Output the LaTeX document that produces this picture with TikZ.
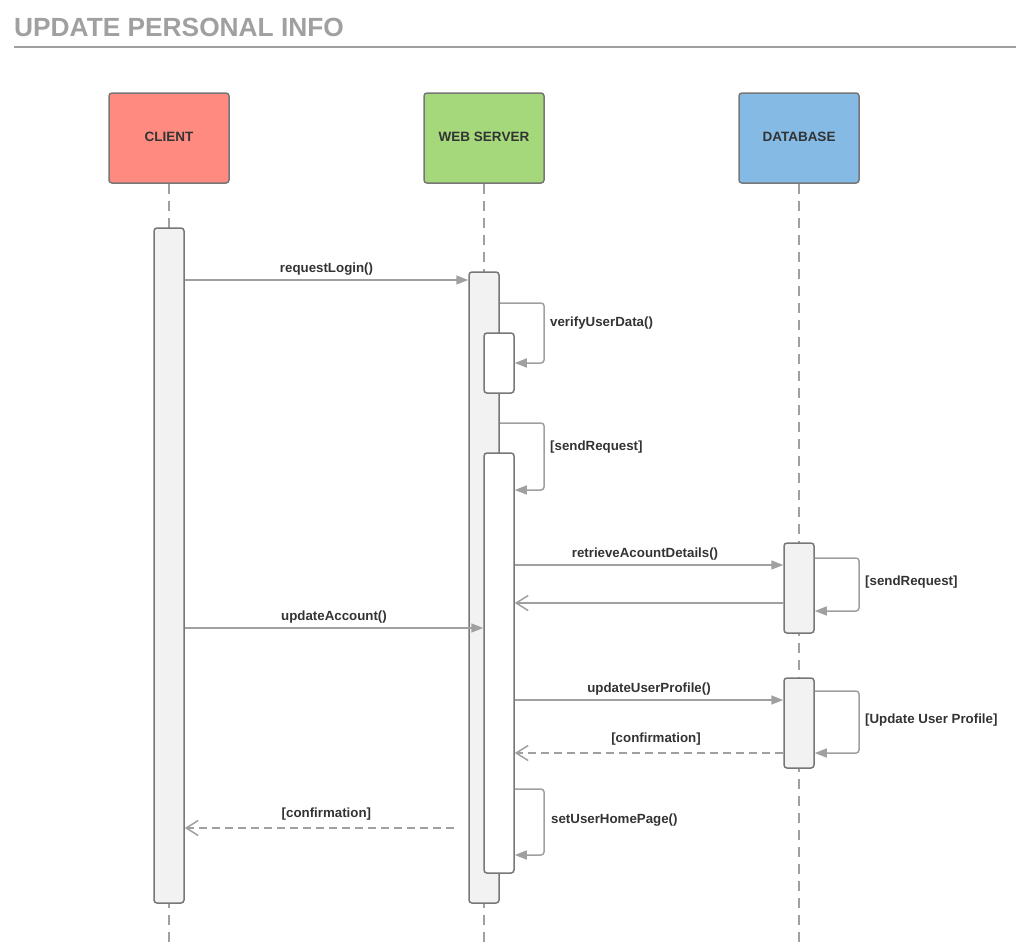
\documentclass[tikz,border=0pt]{standalone}
\usepackage{fontspec}
\setmainfont{Liberation Sans}
\usetikzlibrary{arrows.meta}
\definecolor{clientred}{HTML}{FF8A80}
\definecolor{servergreen}{HTML}{A5D87B}
\definecolor{dbblue}{HTML}{85BAE4}
\definecolor{boxline}{HTML}{777777}
\definecolor{msgline}{HTML}{A0A0A0}
\definecolor{labeltext}{HTML}{333333}

\begin{document}
\begin{tikzpicture}[x=1pt, y=-1pt,
  actor/.style={draw=boxline, line width=1.5pt, rounded corners=3pt, minimum width=120pt, minimum height=90pt, font=\bfseries\fontsize{13.5}{15}\selectfont, text=labeltext},
  lifeline/.style={draw=msgline, line width=1.5pt, dash pattern=on 10pt off 7pt},
  activation/.style={draw=boxline, line width=1.5pt, rounded corners=3pt, minimum width=30pt, fill=#1, inner sep=0pt},
  call/.style={draw=msgline, line width=1.5pt, -{Triangle[length=12pt,width=9pt]}},
  reply/.style={draw=msgline, line width=1.5pt, -{Straight Barb[length=12pt,width=15pt]}},
  loop/.style={call, rounded corners=3pt},
  msg/.style={font=\bfseries\fontsize{13.3}{15}\selectfont, text=labeltext, inner sep=4pt}]
\useasboundingbox (0,0) rectangle (1016,948);

% title
\node[anchor=base west, inner sep=0pt, text=msgline, font=\bfseries\fontsize{26.3}{30}\selectfont] (title) at (14,36) {UPDATE PERSONAL INFO};
\draw[msgline, line width=2pt] (14,47) -- (1016,47);

% participants
\node[actor, fill=clientred] (client) at (169,138) {\raisebox{3pt}{CLIENT}};
\node[actor, fill=servergreen] (server) at (484,138) {\raisebox{3pt}{WEB SERVER}};
\node[actor, fill=dbblue] (db) at (799,138) {\raisebox{3pt}{DATABASE}};
\draw[lifeline] (client.south) -- (169,948);
\draw[lifeline] (server.south) -- (484,948);
\draw[lifeline] (db.south) -- (799,948);

% activation bars
\node[activation=black!5, minimum height=675pt] (cAct) at (169,565.5) {};
\node[activation=black!5, minimum height=631pt] (sAct) at (484,587.5) {};
\node[activation=white, minimum height=60pt] (sVerify) at (499,363) {};
\node[activation=white, minimum height=420pt] (sSend) at (499,663) {};
\node[activation=black!5, minimum height=90pt] (dAct1) at (799,588) {};
\node[activation=black!5, minimum height=90pt] (dAct2) at (799,723) {};

% messages
\draw[call] (cAct.east |- 0,280) -- (sAct.west |- 0,280) node[msg, midway, above] {requestLogin()};
\draw[loop] (sAct.east |- 0,303) -| (544,363) -- (sVerify.east |- 0,363);
\node[msg, anchor=west] (verifyLbl) at (546,323) {verifyUserData()};
\draw[loop] (sAct.east |- 0,423) -| (544,490) -- (sSend.east |- 0,490);
\node[msg, anchor=west] (sendLbl) at (546,447) {[sendRequest]};
\draw[call] (sSend.east |- 0,565) -- (dAct1.west |- 0,565) node[msg, midway, above, xshift=-4pt] {retrieveAcountDetails()};
\draw[reply] (dAct1.west |- 0,603) -- (sSend.east |- 0,603);
\draw[loop] (dAct1.east |- 0,558) -| (859,611) -- (dAct1.east |- 0,611);
\node[msg, anchor=west] (dSendLbl) at (861,582) {[sendRequest]};
\draw[call] (cAct.east |- 0,628) -- (sSend.west |- 0,628) node[msg, midway, above] {updateAccount()};
\draw[call] (sSend.east |- 0,700) -- (dAct2.west |- 0,700) node[msg, midway, above] {updateUserProfile()};
\draw[loop] (dAct2.east |- 0,691) -| (859,753) -- (dAct2.east |- 0,753);
\node[msg, anchor=west] (profileLbl) at (861,720) {[Update User Profile]};
\draw[reply, dash pattern=on 8pt off 5pt] (dAct2.west |- 0,753) -- (sSend.east |- 0,753) node[msg, midway, above=3pt, xshift=7pt] {[confirmation]};
\draw[loop] (sSend.east |- 0,789) -| (544,855) -- (sSend.east |- 0,855);
\node[msg, anchor=west] (homeLbl) at (547,820) {setUserHomePage()};
\coordinate (confStart) at (454,828);
\draw[reply, dash pattern=on 8pt off 5pt] (confStart) -- (cAct.east |- confStart) node[msg, midway, above=3pt, xshift=7pt] {[confirmation]};
\end{tikzpicture}
\end{document}
